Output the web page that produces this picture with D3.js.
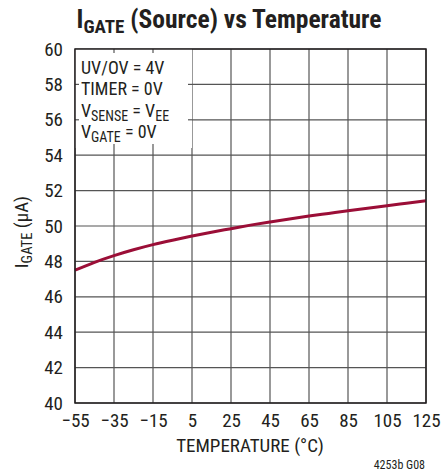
<!DOCTYPE html>
<html>
<head>
<meta charset="utf-8">
<script src="https://cdn.jsdelivr.net/npm/d3@7"></script>
<style>
  body { margin: 0; background: #fff; }
  text { font-family: "Liberation Sans Narrow", "Roboto Condensed", "DejaVu Sans Condensed", sans-serif; fill: #231f20; }
</style>
</head>
<body>
<svg id="chart" width="443" height="473"></svg>
<script>
// temperature (°C) and gate source current (µA)
var temps = [-55, -45, -35, -25, -15, -5, 5, 15, 25, 35, 45, 55, 65, 75, 85, 95, 105, 115, 125];
var igate = [47.5, 47.95, 48.33, 48.66, 48.95, 49.2, 49.43, 49.65, 49.85, 50.05, 50.23, 50.4, 50.56, 50.71, 50.86, 51.0, 51.15, 51.29, 51.43];
var xTicks = [-55, -35, -15, 5, 25, 45, 65, 85, 105, 125];
var yTicks = [40, 42, 44, 46, 48, 50, 52, 54, 56, 58, 60];

var svg = d3.select('#chart');
var pLeft = 75, pRight = 426, pTop = 49, pBottom = 403;

var x = d3.scaleLinear().domain([-55, 125]).range([pLeft, pRight]);
var y = d3.scaleLinear().domain([40, 60]).range([pBottom, pTop]);

// grid
svg.append('g').selectAll('line').data(xTicks).enter().append('line')
    .attr('x1', function(d) { return x(d); }).attr('x2', function(d) { return x(d); })
    .attr('y1', pTop).attr('y2', pBottom)
    .style('stroke', '#555').style('stroke-width', 1.2);
svg.append('g').selectAll('line').data(yTicks).enter().append('line')
    .attr('x1', pLeft).attr('x2', pRight)
    .attr('y1', function(d) { return y(d); }).attr('y2', function(d) { return y(d); })
    .style('stroke', '#555').style('stroke-width', 1.2);

// curve
var line = d3.line().curve(d3.curveMonotoneX)
    .x(function(d, i) { return x(temps[i]); })
    .y(function(d) { return y(d); });
svg.append('path').datum(igate).attr('d', line)
    .style('fill', 'none').style('stroke', '#9b0e37').style('stroke-width', 3);

// legend box over the grid
var boxW = 117, boxH = 99;
svg.append('rect').attr('x', pLeft).attr('y', pTop).attr('width', boxW).attr('height', boxH)
    .style('fill', '#fff');
// small tick stubs along the legend box edges
svg.append('g').selectAll('line').data([-35, -15]).enter().append('line')
    .attr('x1', function(d) { return x(d); }).attr('x2', function(d) { return x(d); })
    .attr('y1', pTop).attr('y2', pTop + 4).style('stroke', '#555').style('stroke-width', 1.2);
svg.append('g').selectAll('line').data([-35, -15]).enter().append('line')
    .attr('x1', function(d) { return x(d); }).attr('x2', function(d) { return x(d); })
    .attr('y1', pTop + boxH - 4).attr('y2', pTop + boxH).style('stroke', '#555').style('stroke-width', 1.2);
svg.append('g').selectAll('line').data([58, 56]).enter().append('line')
    .attr('x1', pLeft).attr('x2', pLeft + 4)
    .attr('y1', function(d) { return y(d); }).attr('y2', function(d) { return y(d); })
    .style('stroke', '#555').style('stroke-width', 1.2);
svg.append('g').selectAll('line').data([58, 56]).enter().append('line')
    .attr('x1', pLeft + boxW - 4).attr('x2', pLeft + boxW)
    .attr('y1', function(d) { return y(d); }).attr('y2', function(d) { return y(d); })
    .style('stroke', '#555').style('stroke-width', 1.2);

// frame
svg.append('rect').attr('x', pLeft).attr('y', pTop).attr('width', pRight - pLeft).attr('height', pBottom - pTop)
    .style('fill', 'none').style('stroke', '#231f20').style('stroke-width', 1.5);

// axes labels
var xAxis = d3.axisBottom(x).tickValues(xTicks).tickSize(0).tickPadding(11)
    .tickFormat(function(d) { return d < 0 ? '\u2212' + Math.abs(d) : d; });
var gx = svg.append('g').attr('transform', 'translate(0,' + pBottom + ')').call(xAxis);
gx.select('.domain').remove();
gx.selectAll('text').style('font-size', '19px').attr('fill', '#231f20');

var yAxis = d3.axisLeft(y).tickValues(yTicks).tickSize(0).tickPadding(12);
var gy = svg.append('g').attr('transform', 'translate(' + pLeft + ',0)').call(yAxis);
gy.select('.domain').remove();
gy.selectAll('text').style('font-size', '19px').attr('fill', '#231f20');

// legend text
var leg = svg.append('g').style('font-size', '18px');
var legLines = [['UV/OV = 4V'], ['TIMER = 0V'], ['V', 'SENSE', ' = V', 'EE'], ['V', 'GATE', ' = 0V']];
legLines.forEach(function(parts, i) {
  var t = leg.append('text').attr('x', pLeft + 6).attr('y', pTop + 25 + i * 21.3);
  parts.forEach(function(p, j) {
    var ts = t.append('tspan').text(p);
    if (j % 2 === 1) ts.style('font-size', '14px').attr('dy', 4);
    else if (j > 0) ts.attr('dy', -4);
  });
});

// title
var title = svg.append('text').attr('x', 229).attr('y', 28).attr('text-anchor', 'middle')
    .style('font-size', '25.5px').style('font-weight', 'bold');
title.append('tspan').text('I');
title.append('tspan').text('GATE').style('font-size', '19px').attr('dy', 5);
title.append('tspan').text(' (Source) vs Temperature').attr('dy', -5);

// x title
svg.append('text').attr('x', 250).attr('y', 452).attr('text-anchor', 'middle')
    .style('font-size', '19px').text('TEMPERATURE (\u00b0C)');

// y title
var yt = svg.append('text').attr('transform', 'translate(28,232) rotate(-90)')
    .attr('text-anchor', 'middle').style('font-size', '19px');
yt.append('tspan').text('I');
yt.append('tspan').text('GATE').style('font-size', '14.5px').attr('dy', 4);
yt.append('tspan').text(' (\u00b5A)').attr('dy', -4);

// figure id
svg.append('text').attr('x', 425).attr('y', 469).attr('text-anchor', 'end')
    .style('font-size', '12px').text('4253b G08');
</script>
</body>
</html>
